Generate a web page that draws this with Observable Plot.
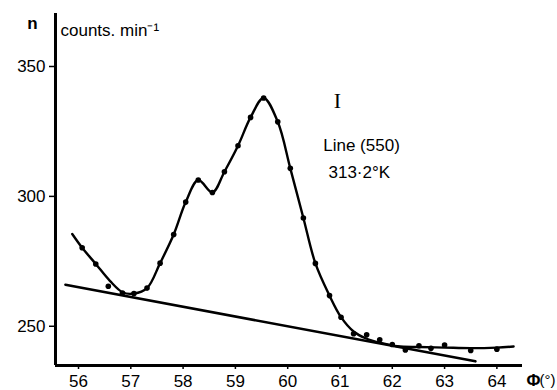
<!DOCTYPE html>
<html><head><meta charset="utf-8">
<script src="https://cdn.jsdelivr.net/npm/d3@7"></script>
<script src="https://cdn.jsdelivr.net/npm/@observablehq/plot@0.6"></script>
<style>body{margin:0;background:#fff} svg{display:block}</style>
</head><body><div id="chart"></div>
<script>
// measured points
const phi = [56.07,56.33,56.57,56.84,57.06,57.31,57.56,57.82,58.05,58.29,58.56,58.79,59.05,59.29,59.54,59.81,60.05,60.30,60.53,60.80,61.02,61.26,61.51,61.76,62.00,62.25,62.51,62.74,63.00,63.50,64.00];
const counts = [280.2,274.0,265.4,262.8,262.6,264.7,274.3,285.3,297.8,306.3,301.5,309.5,319.5,330.4,337.9,328.7,310.8,291.7,274.2,261.8,253.5,247.1,246.7,244.8,243.0,240.9,242.5,241.5,242.8,240.7,241.2];
// drawn smooth curve (knots)
const curvePhi = [55.88,56.07,56.33,56.60,56.85,57.06,57.31,57.56,57.82,58.05,58.29,58.56,58.79,59.05,59.29,59.54,59.81,60.05,60.30,60.53,60.80,61.02,61.26,61.50,61.80,62.10,62.50,63.00,63.50,64.00,64.32];
const curveN = [285.5,280.2,274.0,267.5,263.0,262.6,264.7,274.3,285.3,297.8,306.3,301.5,309.5,319.5,330.4,337.9,328.7,310.8,291.7,274.2,261.8,253.5,248.0,245.3,243.5,242.3,242.0,241.8,241.6,241.8,242.2];
// background line
const basePhi = [55.75, 63.59];
const baseN = [266.0, 236.5];
// ticks
const xTicks = [56,57,58,59,60,61,62,63,64];
const yTicks = [250,300,350];

const pts = phi.map((p,i)=>({phi:p, n:counts[i]}));
const curve = curvePhi.map((p,i)=>({phi:p, n:curveN[i]}));
const base = basePhi.map((p,i)=>({phi:p, n:baseN[i]}));

const xDom = [55.56, 64.49], yDom = [234.9, 370.4];

const plot = Plot.plot({
  width: 557, height: 390,
  marginLeft: 55, marginRight: 35, marginTop: 13, marginBottom: 25,
  style: {fontFamily: "'Liberation Sans', Arial, sans-serif", fontSize: "17px", color: "#000", background: "#fff", overflow: "visible"},
  x: {domain: xDom},
  y: {domain: yDom},
  marks: [
    Plot.axisX({ticks: xTicks, tickSize: 4, tickPadding: 5, label: null, strokeWidth: 1.5, fontSize: 17}),
    Plot.axisY({ticks: yTicks, tickSize: 6, tickPadding: 4, label: null, strokeWidth: 1.5, fontSize: 17}),
    Plot.ruleY([yDom[0]], {stroke: "#000", strokeWidth: 3}),
    Plot.ruleX([xDom[0]], {stroke: "#000", strokeWidth: 3}),
    Plot.line(base, {x: "phi", y: "n", stroke: "#000", strokeWidth: 2.6}),
    Plot.line(curve, {x: "phi", y: "n", stroke: "#000", strokeWidth: 2.4, curve: "catmull-rom"}),
    Plot.dot(pts, {x: "phi", y: "n", r: 2.8, fill: "#000"}),
    Plot.text(["I"], {x: 60.95, y: 336.8, fontFamily: "'Liberation Serif', serif", fontSize: 22, textAnchor: "middle", lineAnchor: "middle"}),
    Plot.text(["Line (550)"], {x: 60.68, y: 319.5, fontSize: 17, textAnchor: "start", lineAnchor: "middle"}),
    Plot.text(["313·2°K"], {x: 60.78, y: 309.1, fontSize: 17, textAnchor: "start", lineAnchor: "middle"}),
    Plot.text(["n"], {frameAnchor: "top-left", dx: -23, dy: 10, fontSize: 17, fontWeight: "bold", textAnchor: "middle", lineAnchor: "middle"}),
    Plot.text(["counts. min⁻¹"], {frameAnchor: "top-left", dx: 5, dy: 17, fontSize: 17, textAnchor: "start", lineAnchor: "middle"}),
    Plot.text(["Φ"], {frameAnchor: "bottom-right", dx: 11, dy: 15, fontSize: 17, fontWeight: "bold", textAnchor: "middle", lineAnchor: "middle"}),
    Plot.text(["(°)"], {frameAnchor: "bottom-right", dx: 17, dy: 15, fontSize: 15, textAnchor: "start", lineAnchor: "middle"})
  ]
});
document.getElementById("chart").appendChild(plot);
</script>
</body></html>
